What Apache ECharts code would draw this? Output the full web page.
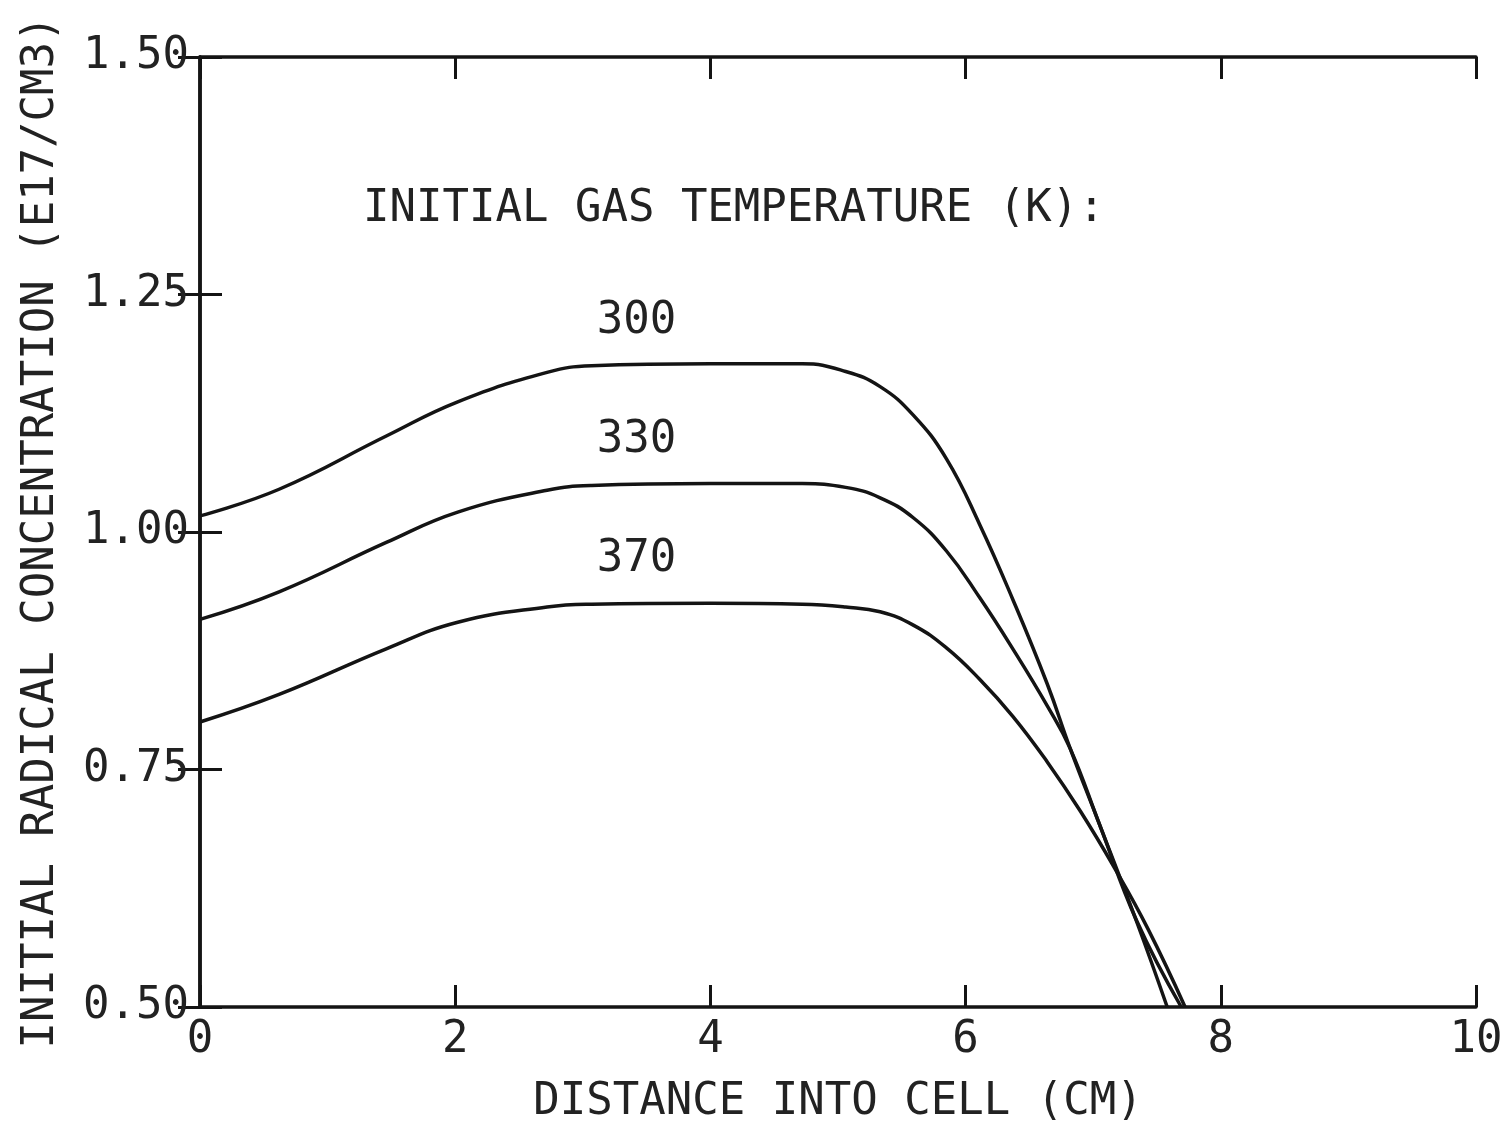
<!DOCTYPE html>
<html>
<head>
<meta charset="utf-8">
<script src="https://cdn.jsdelivr.net/npm/echarts@6/dist/echarts.min.js"></script>
<style>
  html, body { margin: 0; padding: 0; background: #ffffff; }
  #chart { width: 1511px; height: 1126px; }
</style>
</head>
<body>
<div id="chart"></div>
<script>
// ---- Data ----
const temperatures = ['300', '330', '370'];

const distance300 = [0, 0.62, 1.46, 2.02, 2.72, 3.07, 4.0, 4.72, 5.06, 5.33, 5.59, 5.85, 6.11, 6.37, 6.64, 6.82, 7.05, 7.34, 7.58];
const conc300     = [1.017, 1.045, 1.101, 1.137, 1.168, 1.175, 1.177, 1.177, 1.169, 1.153, 1.123, 1.077, 1.008, 0.929, 0.840, 0.772, 0.692, 0.590, 0.500];

const distance330 = [0, 0.62, 1.46, 2.02, 2.72, 3.07, 4.0, 4.72, 5.06, 5.33, 5.59, 5.85, 6.11, 6.37, 6.64, 6.82, 7.05, 7.34, 7.69];
const conc330     = [0.908, 0.937, 0.989, 1.021, 1.044, 1.049, 1.051, 1.051, 1.047, 1.036, 1.015, 0.980, 0.931, 0.877, 0.817, 0.772, 0.692, 0.591, 0.500];

const distance370 = [0, 0.62, 1.46, 2.02, 2.72, 3.07, 4.0, 4.72, 5.06, 5.33, 5.59, 5.85, 6.11, 6.37, 6.64, 6.90, 7.16, 7.43, 7.72];
const conc370     = [0.800, 0.829, 0.877, 0.905, 0.921, 0.924, 0.925, 0.924, 0.921, 0.916, 0.902, 0.878, 0.845, 0.806, 0.758, 0.706, 0.648, 0.582, 0.500];

const xTicks = [0, 2, 4, 6, 8, 10];
const yTicks = [0.50, 0.75, 1.00, 1.25, 1.50];

const legendTitle = 'INITIAL GAS TEMPERATURE (K):';
const xTitle = 'DISTANCE INTO CELL (CM)';
const yTitle = 'INITIAL RADICAL CONCENTRATION (E17/CM3)';

// ---- Build chart ----
const FONT = 'DejaVu Sans Mono';
const INK = '#141414';
const zip = (xs, ys) => xs.map((x, i) => [x, ys[i]]);

const seriesData = [zip(distance300, conc300), zip(distance330, conc330), zip(distance370, conc370)];
const labelAnchors = [[3.42, 1.221], [3.42, 1.096], [3.42, 0.971]];

const axisCommon = {
  type: 'value',
  axisLine: { show: true, lineStyle: { color: INK, width: 3.5 } },
  axisTick: { show: true, inside: true, length: 22, lineStyle: { color: INK, width: 3 } },
  splitLine: { show: false }
};
const labelText = { fontFamily: FONT, fontSize: 44, color: '#222', fontWeight: 'normal' };

const chart = echarts.init(document.getElementById('chart'), null, { renderer: 'canvas' });
chart.setOption({
  animation: false,
  backgroundColor: '#ffffff',
  title: {
    text: legendTitle,
    left: 358,
    top: 183,
    textStyle: Object.assign({}, labelText)
  },
  grid: { left: 200, right: 35, top: 57, bottom: 119, containLabel: false, outerBoundsMode: 'none' },
  xAxis: [
    Object.assign({}, axisCommon, {
      position: 'bottom',
      min: xTicks[0], max: xTicks[xTicks.length - 1], interval: xTicks[1] - xTicks[0],
      axisLabel: Object.assign({ margin: 12 }, labelText),
      name: xTitle,
      nameLocation: 'middle',
      nameGap: 74,
      nameTextStyle: Object.assign({}, labelText)
    }),
    Object.assign({}, axisCommon, {
      position: 'top',
      min: xTicks[0], max: xTicks[xTicks.length - 1], interval: xTicks[1] - xTicks[0],
      axisLabel: { show: false }
    })
  ],
  yAxis: [
    Object.assign({}, axisCommon, {
      position: 'left',
      min: yTicks[0], max: yTicks[yTicks.length - 1], interval: yTicks[1] - yTicks[0],
      axisLabel: Object.assign({ margin: 11, formatter: v => v.toFixed(2) }, labelText),
      name: yTitle,
      nameLocation: 'middle',
      nameGap: 136,
      nameTextStyle: Object.assign({}, labelText)
    }),
    Object.assign({}, axisCommon, {
      position: 'right',
      min: yTicks[0], max: yTicks[yTicks.length - 1], interval: yTicks[1] - yTicks[0],
      axisLabel: { show: false }
    })
  ],
  series: temperatures.map((t, i) => ({
    name: t,
    type: 'line',
    data: seriesData[i],
    smooth: 0.45,
    showSymbol: false,
    symbol: 'none',
    clip: true,
    lineStyle: { color: INK, width: 3.5 },
    markPoint: {
      symbol: 'circle',
      symbolSize: 0,
      silent: true,
      data: [{ coord: labelAnchors[i], value: t }],
      label: Object.assign({ show: true, position: 'inside', formatter: t }, labelText)
    }
  }))
});
</script>
</body>
</html>
